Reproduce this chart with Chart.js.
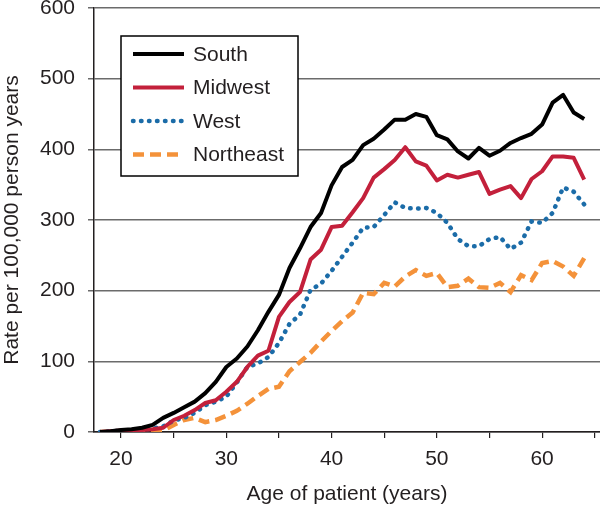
<!DOCTYPE html>
<html>
<head>
<meta charset="utf-8">
<script src="https://cdn.jsdelivr.net/npm/chart.js@4"></script>
<style>
  html, body { margin: 0; padding: 0; background: #fff; }
  #wrap { width: 600px; height: 507px; }
</style>
</head>
<body>
<div id="wrap"><canvas id="grafico"></canvas></div>
<script>
// ages 18..64
const idades = [18, 19, 20, 21, 22, 23, 24, 25, 26, 27, 28, 29, 30, 31, 32, 33, 34, 35, 36, 37, 38, 39, 40,
  41, 42, 43, 44, 45, 46, 47, 48, 49, 50, 51, 52, 53, 54, 55, 56, 57, 58, 59, 60, 61, 62, 63, 64];

const south = [0, 1, 3, 4, 6, 10, 20, 27, 35, 43, 55, 71, 92, 104, 121, 144, 170, 194, 232, 260, 290, 310, 349,
  375, 385, 406, 415, 428, 442, 442, 450, 446, 420, 414, 397, 387, 402, 391, 398, 409, 416, 422, 435,
  466, 477, 452, 443];

const midwest = [0, 1, 2, 3, 3, 4, 6, 17, 23, 31, 41, 45, 57, 71, 92, 108, 115, 163, 184, 198, 244, 258, 290,
  292, 311, 331, 360, 372, 385, 403, 383, 377, 356, 364, 360, 364, 368, 337, 343, 348, 331, 358, 369,
  390, 390, 388, 357];

const west = [0, 1, 2, 2, 3, 5, 8, 16, 20, 27, 38, 43, 50, 70, 92, 97, 106, 126, 153, 166, 201, 210, 228,
  248, 268, 289, 290, 307, 325, 317, 316, 317, 310, 296, 273, 263, 263, 273, 276, 259, 268, 298, 296,
  310, 346, 340, 322];

const northeast = [0, 0, 1, 1, 1, 1, 2, 10, 17, 20, 14, 17, 23, 30, 40, 51, 61, 64, 86, 99, 112, 128, 143,
  157, 169, 197, 195, 211, 206, 220, 229, 221, 225, 205, 207, 217, 205, 204, 211, 198, 222, 215, 239,
  242, 234, 221, 246];

const xTicks = [20, 25, 30, 35, 40, 45, 50, 55, 60, 65];
const yTicks = [0, 100, 200, 300, 400, 500, 600];

const corTexto = '#231f20';
const fonte = 'Liberation Sans, Arial, sans-serif';

function pontos(valores) {
  return idades.map((a, i) => ({ x: a, y: valores[i] }));
}

// legenda desenhada dentro do gráfico, com caixa
const legendaCaixa = {
  id: 'legendaCaixa',
  afterDraw(chart) {
    const ctx = chart.ctx;
    ctx.save();
    ctx.fillStyle = '#fff';
    ctx.fillRect(121, 36, 177, 140);
    ctx.strokeStyle = '#000';
    ctx.lineWidth = 1.5;
    ctx.strokeRect(121, 36, 177, 140);
    chart.data.datasets.forEach((ds, i) => {
      const y = 54 + i * 33.5;
      ctx.beginPath();
      ctx.strokeStyle = ds.borderColor;
      ctx.lineWidth = ds.borderWidth;
      ctx.lineCap = ds.borderCapStyle || 'butt';
      ctx.setLineDash(ds.borderDash || []);
      ctx.moveTo(133, y);
      ctx.lineTo(184, y);
      ctx.stroke();
      ctx.setLineDash([]);
      ctx.fillStyle = corTexto;
      ctx.font = '21px ' + fonte;
      ctx.textBaseline = 'middle';
      ctx.textAlign = 'left';
      ctx.fillText(ds.label, 193, y + 1);
    });
    ctx.restore();
  }
};

new Chart(document.getElementById('grafico'), {
  type: 'line',
  data: {
    datasets: [
      { label: 'South', data: pontos(south), borderColor: '#000000', borderWidth: 4, borderJoinStyle: 'round' },
      { label: 'Midwest', data: pontos(midwest), borderColor: '#c3203b', borderWidth: 4, borderJoinStyle: 'round' },
      { label: 'West', data: pontos(west), borderColor: '#1b6ca8', borderWidth: 4.5, borderDash: [0.5, 7.5], borderCapStyle: 'round' },
      { label: 'Northeast', data: pontos(northeast), borderColor: '#f4923a', borderWidth: 4.5, borderDash: [11, 6], borderCapStyle: 'butt' }
    ]
  },
  options: {
    responsive: true,
    maintainAspectRatio: false,
    animation: false,
    layout: { padding: { top: 8, right: 0, bottom: 0, left: 0 } },
    elements: { point: { radius: 0 }, line: { tension: 0 } },
    plugins: { legend: { display: false }, tooltip: { enabled: false } },
    scales: {
      x: {
        type: 'linear',
        min: 17.43,
        max: 65.5,
        afterBuildTicks: s => { s.ticks = xTicks.map(v => ({ value: v })); },
        afterFit: s => { s.height = 75; s.paddingLeft = 0; s.paddingRight = 0; },
        ticks: {
          color: corTexto,
          font: { family: fonte, size: 21 },
          padding: 9,
          maxRotation: 0,
          autoSkip: false,
          callback: v => (v % 10 === 0 ? v : '')
        },
        grid: { drawOnChartArea: false, drawTicks: true, tickLength: 6, color: corTexto, lineWidth: 1.2 },
        border: { color: corTexto, width: 1.5 },
        title: {
          display: true,
          text: 'Age of patient (years)',
          color: corTexto,
          font: { family: fonte, size: 21 },
          padding: { top: 0, bottom: 0 }
        }
      },
      y: {
        min: 0,
        max: 600,
        afterBuildTicks: s => { s.ticks = yTicks.map(v => ({ value: v })); },
        afterFit: s => { s.width = 94; s.paddingTop = 0; s.paddingBottom = 0; },
        ticks: {
          color: corTexto,
          font: { family: fonte, size: 21 },
          padding: 13
        },
        grid: { color: '#6b6b6b', lineWidth: 1.5, tickLength: 6 },
        border: { color: corTexto, width: 1.5 },
        title: {
          display: true,
          text: 'Rate per 100,000 person years',
          color: corTexto,
          font: { family: fonte, size: 21 },
          padding: { top: 0, bottom: 0 }
        }
      }
    }
  },
  plugins: [legendaCaixa]
});
</script>
</body>
</html>
